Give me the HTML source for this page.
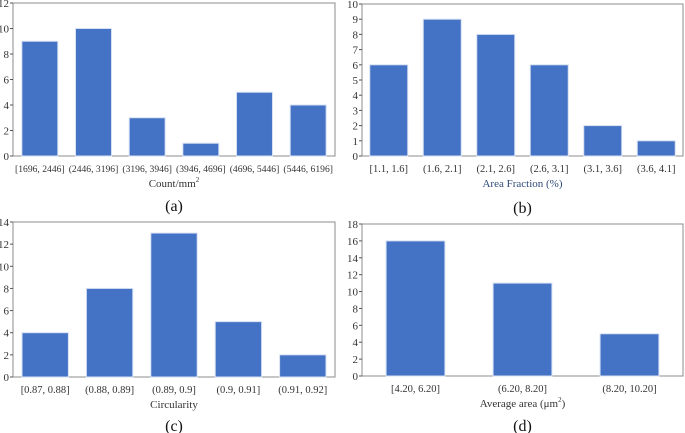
<!DOCTYPE html>
<html><head><meta charset="utf-8">
<style>
body{margin:0;background:#fff;width:685px;height:433px;overflow:hidden}
svg{display:block;font-family:"Liberation Serif",serif}
</style></head>
<body>
<svg id="s" width="685" height="433"></svg>
<script>
const catsA=["[1696, 2446]","(2446, 3196]","(3196, 3946]","(3946, 4696]","(4696, 5446]","(5446, 6196]"];
const valsA=[9,10,3,1,5,4];
const ticksA=[0,2,4,6,8,10,12];
const catsB=["[1.1, 1.6]","(1.6, 2.1]","(2.1, 2.6]","(2.6, 3.1]","(3.1, 3.6]","(3.6, 4.1]"];
const valsB=[6,9,8,6,2,1];
const ticksB=[0,1,2,3,4,5,6,7,8,9,10];
const catsC=["[0.87, 0.88]","(0.88, 0.89]","(0.89, 0.9]","(0.9, 0.91]","(0.91, 0.92]"];
const valsC=[4,8,13,5,2];
const ticksC=[0,2,4,6,8,10,12,14];
const catsD=["[4.20, 6.20]","(6.20, 8.20]","(8.20, 10.20]"];
const valsD=[16,11,5];
const ticksD=[0,2,4,6,8,10,12,14,16,18];

const NS="http://www.w3.org/2000/svg";
const svg=document.getElementById('s');
function mk(tag,attrs,parent,text){const e=document.createElementNS(NS,tag);for(const k in attrs)e.setAttribute(k,attrs[k]);if(text!==undefined)e.textContent=text;parent.appendChild(e);return e;}

function panel(id,cats,vals,ticks,box,barFrac,xtitle,xtitleColor,label,labelY,catSize){
  const g=mk('g',{},svg);
  
  
  const [x0,y0,x1,y1]=box;
  const ymax=ticks[ticks.length-1];
  const ys=v=>y1-(v/ymax)*(y1-y0);
  const band=(x1-x0)/cats.length;
  const xs=i=>x0+band*i;
  const frame=mk('rect',{x:x0,y:y0,width:x1-x0,height:y1-y0,fill:'none',stroke:'#8c8c8c','stroke-width':1},g);
  
  
  ticks.forEach(t=>{
    const tl=mk('line',{x1:x0-3,x2:x0,y1:ys(t),y2:ys(t),stroke:'#555','stroke-width':1},g);
    
    
    const tx=mk('text',{x:x0-4,y:ys(t)+4,'text-anchor':'end','font-size':11,fill:'#333'},g,String(t));
    
    
  });
  vals.forEach((v,i)=>{
    const bw=band*barFrac;
    const r=mk('rect',{x:xs(i)+(band-bw)/2,y:ys(v),width:bw,height:ys(0)-ys(v),fill:'#4472c4',stroke:'#d6e0f3','stroke-width':1},g);
    
    
    const t=mk('text',{x:xs(i)+band/2,y:y1+16,'text-anchor':'middle','font-size':catSize,fill:'#333'},g,cats[i]);
    
    
  });
  const xt=mk('text',{x:(x0+x1)/2,y:y1+31,'text-anchor':'middle','font-size':11,fill:xtitleColor},g);
  xt.innerHTML=xtitle;
  
  
  const lb=mk('text',{x:(x0+x1)/2,y:labelY,'text-anchor':'middle','font-size':16,fill:'#111'},g,label);
  
  
}
panel('a',catsA,valsA,ticksA,[13,3,335,156],0.67,'Count/mm<tspan font-size="7" dy="-5">2</tspan>','#333','(a)',211,9.6);
panel('b',catsB,valsB,ticksB,[362,4,683,156],0.71,'Area Fraction (%)','#2f4a7a','(b)',213,10.5);
panel('c',catsC,valsC,ticksC,[13,222,335,377],0.72,'Circularity','#333','(c)',431,10.5);
panel('d',catsD,valsD,ticksD,[362,224,683,376],0.55,'Average area (\u03bcm<tspan font-size="7" dy="-5">2</tspan><tspan dy="5">)</tspan>','#333','(d)',431,10.5);
</script>
</body></html>
